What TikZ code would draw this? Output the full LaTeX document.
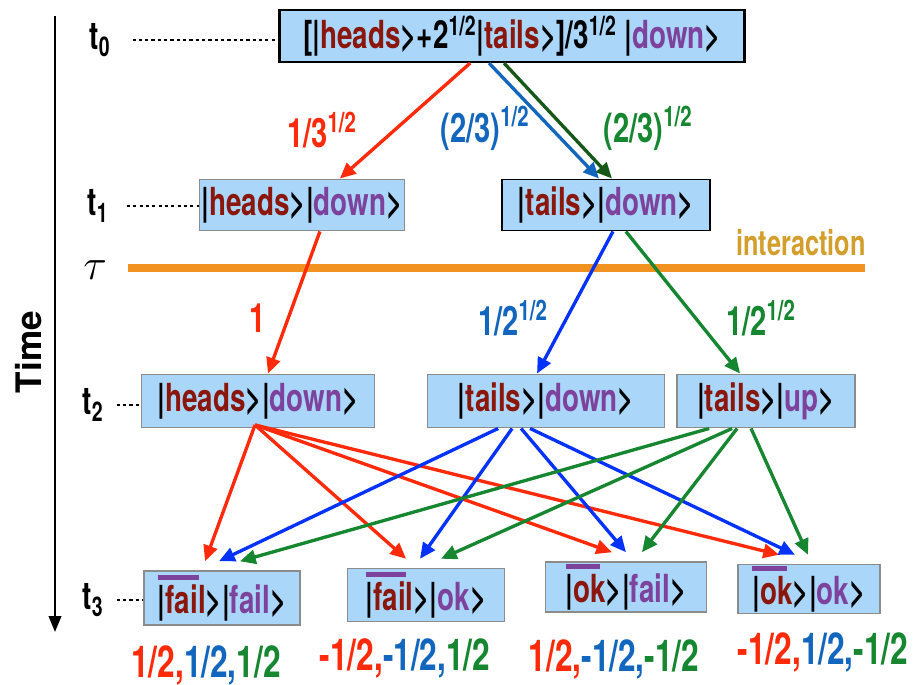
\documentclass[tikz,border=0pt]{standalone}
\usepackage{fontspec}
\setmainfont{TeX Gyre Heros}[FakeStretch=0.72]
\newfontfamily\timefont{TeX Gyre Heros}
\usetikzlibrary{arrows.meta}

\definecolor{boxblue}{RGB}{170,214,250}
\definecolor{boxgray}{RGB}{140,140,140}
\definecolor{kred}{RGB}{138,22,12}
\definecolor{kpurple}{RGB}{125,66,156}
\definecolor{ared}{RGB}{255,42,10}
\definecolor{ablue}{RGB}{5,50,250}
\definecolor{lblue}{RGB}{18,102,190}
\definecolor{agreen}{RGB}{22,134,48}
\definecolor{dgreen}{RGB}{22,88,24}
\definecolor{orng}{RGB}{242,146,32}
\definecolor{gold}{RGB}{212,158,44}

\newcommand\hf{\textsuperscript{1/2}}
\newcommand\kt[2]{|\textcolor{#1}{#2}>}
\newlength\barlen
\newcommand\bk[1]{\settowidth\barlen{#1}\rlap{\textcolor{kpurple}{\rule[0.86em]{0.85\barlen}{0.12em}}}#1}

\tikzset{
  ket/.style={draw=boxgray, fill=boxblue, line width=1.1pt, inner sep=0pt,
    font=\bfseries\fontsize{22}{26}\selectfont},
  ketk/.style={ket, draw=black},
  prob/.style={font=\bfseries\fontsize{23}{27}\selectfont},
  amp/.style={font=\bfseries\fontsize{25}{29}\selectfont},
  tlab/.style={font=\bfseries\fontsize{22}{26}\selectfont},
  tick/.style={line width=0.6pt, dash pattern=on 1.8pt off 1.8pt},
  ar/.style={line width=1.9pt, -{Triangle[length=9pt,width=8pt]}}
}

\begin{document}
\begin{tikzpicture}[x=0.02cm,y=-0.02cm]
\useasboundingbox (0,0) rectangle (920,684);

% time axis
\coordinate (tA) at (55,16);
\coordinate (tB) at (55,632);
\draw[line width=1.4pt,-{Triangle[length=9pt,width=7pt]}] (tA) -- (tB);
\node[rotate=90, font=\timefont\bfseries\fontsize{20}{24}\selectfont] (time) at (29,352) {Time};

% states
\node[ketk, line width=1.3pt, minimum width=9.3cm, minimum height=1.04cm] (s0) at (512,36)
  {[\kt{kred}{heads}+2\hf\kt{kred}{tails}]/3\hf\ \kt{kpurple}{down}};
\node[ket, minimum width=4.1cm, minimum height=1.02cm] (h1) at (302,205)
  {\kt{kred}{heads}\kt{kpurple}{down}};
\node[ketk, minimum width=4.16cm, minimum height=1.02cm] (t1) at (606,205)
  {\kt{kred}{tails}\kt{kpurple}{down}};
\node[ket, minimum width=4.66cm, minimum height=1.06cm] (h2) at (258,401)
  {\kt{kred}{heads}\kt{kpurple}{down}};
\node[ket, minimum width=4.74cm, minimum height=1.06cm] (td2) at (546,401)
  {\kt{kred}{tails}\kt{kpurple}{down}};
\node[ket, minimum width=3.56cm, minimum height=1.06cm] (tu2) at (766,401)
  {\kt{kred}{tails}\kt{kpurple}{up}};
\node[ket, minimum width=3.12cm, minimum height=1.08cm] (ff) at (222,598)
  {\bk{|\textcolor{kred}{fail}}>\kt{kpurple}{fail}};
\node[ket, minimum width=3.14cm, minimum height=1.06cm] (fo) at (426,595)
  {\bk{|\textcolor{kred}{fail}}>\kt{kpurple}{ok}};
\node[ket, minimum width=3.22cm, minimum height=1.0cm] (of) at (626,587)
  {\bk{|\textcolor{kred}{ok}}>\kt{kpurple}{fail}};
\node[ket, minimum width=2.84cm, minimum height=0.98cm] (oo) at (809,589)
  {\bk{|\textcolor{kred}{ok}}>\kt{kpurple}{ok}};

% time marks
\node[tlab] (l0) at (100,40) {t\textsubscript{0}};
\node[tlab] (l1) at (98,206) {t\textsubscript{1}};
\node[tlab] (l2) at (93,405) {t\textsubscript{2}};
\node[tlab] (l3) at (93,600) {t\textsubscript{3}};
\draw[tick] ([xshift=9pt]l0.east) -- (l0.east -| s0.west);
\draw[tick] ([xshift=7pt]l1.east) -- (l1.east -| h1.west);
\draw[tick] ([xshift=4pt]l2.east) -- (l2.east -| h2.west);
\draw[tick] ([xshift=4pt]l3.east) -- (l3.east -| ff.west);

% interaction
\node[font=\fontsize{26}{30}\selectfont] (tau) at (95,270) {$\tau$};
\coordinate (iA) at (128,268);
\coordinate (iB) at (865,268);
\draw[orng, line width=4pt] (iA) -- (iB);
\node[font=\bfseries\fontsize{20}{24}\selectfont, text=gold] (inter) at (801,243) {interaction};

% amplitudes
\node[prob, text=ared] (p1) at (322,130) {1/3\hf};
\node[prob, text=lblue] (p2) at (485,128) {(2/3)\hf};
\node[prob, text=agreen] (p3) at (648,128) {(2/3)\hf};
\node[prob, text=ared] (p4) at (258,318) {1};
\node[prob, text=lblue] (p5) at (513,318) {1/2\hf};
\node[prob, text=agreen] (p6) at (761,318) {1/2\hf};

% branches
\draw[ar, ared] ([xshift=-42*0.567pt]s0.south) -- ([xshift=38*0.567pt]h1.north);
\draw[ar, lblue] ([xshift=-23*0.567pt]s0.south) -- ([xshift=-7*0.567pt]t1.north);
\draw[ar, dgreen] ([xshift=-8*0.567pt]s0.south) -- ([xshift=6*0.567pt]t1.north);
\draw[ar, ared] ([xshift=18*0.567pt]h1.south) -- ([xshift=10*0.567pt]h2.north);
\draw[ar, ablue] ([xshift=7*0.567pt]t1.south) -- ([xshift=-9*0.567pt]td2.north);
\draw[ar, agreen] ([xshift=20*0.567pt]t1.south) -- ([xshift=-26*0.567pt]tu2.north);

% measurement
\foreach \tgt/\dx in {ff/-17, fo/-20, of/-14, oo/-30}
  \draw[ar, ared] ([xshift=-3*0.567pt, yshift=2pt]h2.south) -- ([xshift=\dx*0.567pt, yshift=5pt]\tgt.north);
\foreach \tgt/\sx/\dx in {ff/-48/-3, fo/-34/-6, of/-25/0, oo/-16/-14}
  \draw[ar, ablue] ([xshift=\sx*0.567pt]td2.south) -- ([xshift=\dx*0.567pt, yshift=5pt]\tgt.north);
\foreach \tgt/\sx/\dx in {ff/-57/18, fo/-34/15, of/-29/16, oo/-15/-1}
  \draw[ar, agreen] ([xshift=\sx*0.567pt]tu2.south) -- ([xshift=\dx*0.567pt, yshift=5pt]\tgt.north);

% outcomes
\node[amp] (v1) at (206,665) {\textcolor{ared}{1/2,}\textcolor{lblue}{1/2,}\textcolor{agreen}{1/2}};
\node[amp] (v2) at (405,658) {\textcolor{ared}{-1/2,}\textcolor{lblue}{-1/2,}\textcolor{agreen}{1/2}};
\node[amp] (v3) at (614,659) {\textcolor{ared}{1/2,}\textcolor{lblue}{-1/2,}\textcolor{agreen}{-1/2}};
\node[amp] (v4) at (823,652) {\textcolor{ared}{-1/2,}\textcolor{lblue}{1/2,}\textcolor{agreen}{-1/2}};
\end{tikzpicture}
\end{document}
